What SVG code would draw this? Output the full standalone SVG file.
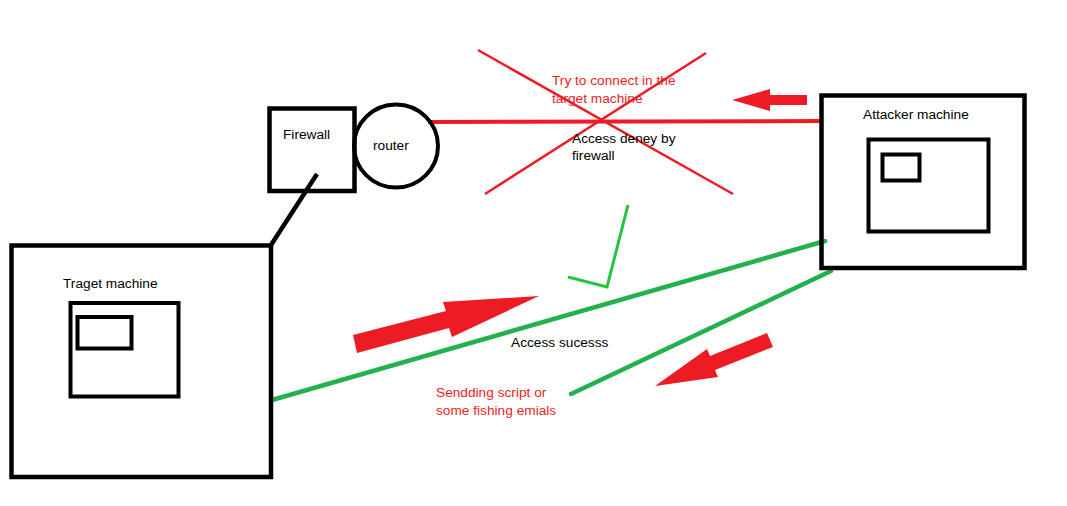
<svg xmlns="http://www.w3.org/2000/svg" width="1067" height="506" viewBox="0 0 1067 506">
<style>
.box{fill:none;stroke:#000;stroke-width:4.5}
.in{fill:none;stroke:#000;stroke-width:4}
.t{font-family:"Liberation Sans",Arial,sans-serif;font-size:13.7px;fill:#000}
.rt{fill:#ed1c24}
.r{fill:#ed1c24}
.red{stroke:#ed1c24;fill:none}
.grn{stroke:#22b14c;fill:none;stroke-width:4.5;stroke-linecap:round}
</style>
<rect width="1067" height="506" fill="#fff"/>
<g id="connectors">
<line x1="317" y1="174" x2="271" y2="245" stroke="#000" stroke-width="4.5"/>
<line x1="428" y1="122" x2="822" y2="121" class="red" stroke-width="4"/>
<line x1="478" y1="50" x2="733" y2="194" class="red" stroke-width="2.5"/>
<line x1="706" y1="53" x2="485" y2="194" class="red" stroke-width="2.5"/>
<line x1="272" y1="400" x2="825" y2="241" class="grn"/>
<line x1="571" y1="394" x2="831" y2="271" class="grn"/>
<polyline points="568,277 607,287 628,205" stroke="#25c440" stroke-width="3" fill="none"/>
<polygon class="r" points="732,100 770,89 770,95 807,95 807,105 770,105 770,111"/>
<polygon class="r" points="353,335 446,311 443,302 539,296 452,337 449,328 357,353"/>
<polygon class="r" points="767,333 710,356 707,349 655,386 718,377 715,370 773,347"/>
</g>
<g id="target">
<rect class="box" x="11.5" y="245.5" width="259.5" height="231.5"/>
<rect class="in" x="70.5" y="303" width="108" height="93.5"/>
<rect class="in" x="77.5" y="317" width="54" height="31.5"/>
<text class="t" x="63" y="288">Traget machine</text>
</g>
<g id="firewall">
<rect class="box" x="269.5" y="108.5" width="85" height="82.5"/>
<text class="t" x="283" y="139">Firewall</text>
</g>
<g id="router">
<ellipse cx="396" cy="146" rx="42" ry="41.5" fill="none" stroke="#000" stroke-width="4"/>
<text class="t" x="373" y="150">router</text>
</g>
<g id="attacker">
<rect class="box" x="821.5" y="95.5" width="203" height="172.5"/>
<rect class="in" x="868.5" y="139.5" width="120" height="92"/>
<rect class="in" x="882.5" y="154.5" width="37" height="26"/>
<text class="t" x="863" y="119">Attacker machine</text>
</g>
<g id="labels">
<text class="t rt" x="552" y="85">Try to connect in the</text>
<text class="t rt" x="552" y="103">target machine</text>
<text class="t" x="572" y="143">Access deney by</text>
<text class="t" x="572" y="160">firewall</text>
<text class="t" x="511" y="347">Access sucesss</text>
<text class="t rt" x="436" y="397">Sendding script or</text>
<text class="t rt" x="436" y="415">some fishing emials</text>
</g>
</svg>
